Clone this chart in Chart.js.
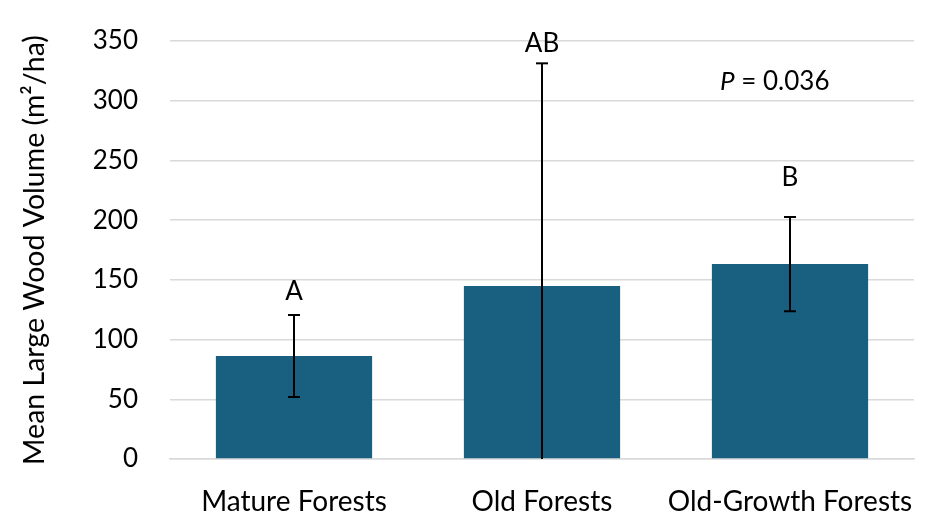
<!DOCTYPE html>
<html>
<head>
<meta charset="utf-8">
<script src="https://cdn.jsdelivr.net/npm/chart.js@4"></script>
<style>
  html, body { margin: 0; padding: 0; background: #fff; }
  #wrap { width: 938px; height: 516px; }
</style>
</head>
<body>
<div id="wrap"><canvas id="c" width="938" height="516"></canvas></div>
<script>
// Forest age classes and their mean large wood volume (m²/ha)
const categories = ['Mature Forests', 'Old Forests', 'Old-Growth Forests'];
const meanVolume = [86.3, 144.8, 163.2];
const errorSize = [34.3, 186.5, 39.4];
const groupLetters = ['A', 'AB', 'B'];
const yTicks = [0, 50, 100, 150, 200, 250, 300, 350];
const pValueText = '0.036';

// Where each significance letter sits, in axis units
const letterY = [139.8, 347.8, 236];

const FONT = 'Lato, "Open Sans", sans-serif';

const errorBarPlugin = {
  id: 'errorBars',
  afterDatasetsDraw(chart) {
    const ctx = chart.ctx;
    const y = chart.scales.y;
    const meta = chart.getDatasetMeta(0);
    ctx.save();
    ctx.strokeStyle = '#000';
    ctx.lineWidth = 2;
    meta.data.forEach((bar, i) => {
      const x = bar.x;
      const hi = meanVolume[i] + errorSize[i];
      const lo = Math.max(0, meanVolume[i] - errorSize[i]);
      const yHi = y.getPixelForValue(hi);
      const yLo = y.getPixelForValue(lo);
      ctx.beginPath();
      ctx.moveTo(x, yHi);
      ctx.lineTo(x, yLo);
      ctx.stroke();
      ctx.beginPath();
      ctx.moveTo(x - 6, yHi);
      ctx.lineTo(x + 6, yHi);
      if (lo > 0) {
        ctx.moveTo(x - 6, yLo);
        ctx.lineTo(x + 6, yLo);
      }
      ctx.stroke();

      // significance letter
      ctx.fillStyle = '#000';
      ctx.font = '26px ' + FONT;
      ctx.textAlign = 'center';
      ctx.textBaseline = 'middle';
      ctx.fillText(groupLetters[i], x, y.getPixelForValue(letterY[i]));
    });

    // P value annotation
    const px = 720, py = y.getPixelForValue(316);
    ctx.textAlign = 'left';
    ctx.textBaseline = 'middle';
    ctx.font = 'italic 26px ' + FONT;
    ctx.fillText('P', px, py);
    const w = ctx.measureText('P').width;
    ctx.font = '26px ' + FONT;
    ctx.fillText(' = ' + pValueText, px + w, py);
    ctx.restore();
  }
};

new Chart(document.getElementById('c'), {
  type: 'bar',
  data: {
    labels: categories,
    datasets: [{
      data: meanVolume,
      backgroundColor: '#185f80',
      categoryPercentage: 1,
      barPercentage: 0.63
    }]
  },
  options: {
    responsive: false,
    animation: false,
    layout: { padding: { top: 41, right: 24, left: 0, bottom: 0 } },
    plugins: { legend: { display: false }, tooltip: { enabled: false } },
    scales: {
      x: {
        grid: { display: false, drawTicks: false },
        border: { color: '#d9d9d9', width: 1.5 },
        ticks: { color: '#000', font: { family: FONT, size: 28 }, padding: 26, maxRotation: 0, autoSkip: false },
        afterFit(scale) {
          scale.height = 57;
          scale.paddingLeft = 0;
          scale.paddingRight = 0;
        }
      },
      y: {
        min: 0, max: 350,
        afterBuildTicks(scale) { scale.ticks = yTicks.map(v => ({ value: v })); },
        grid: { color: '#d9d9d9', lineWidth: 1.5, drawTicks: false },
        border: { display: false },
        ticks: { color: '#000', font: { family: FONT, size: 26 }, padding: 32 },
        title: {
          display: true,
          text: 'Mean Large Wood Volume (m²/ha)',
          color: '#000',
          font: { family: FONT, size: 28.5 },
          padding: { top: 18, bottom: 10 }
        },
        afterFit(scale) {
          scale.width = 170;
          scale.paddingTop = 0;
          scale.paddingBottom = 0;
        }
      }
    }
  },
  plugins: [errorBarPlugin]
});
</script>
</body>
</html>
